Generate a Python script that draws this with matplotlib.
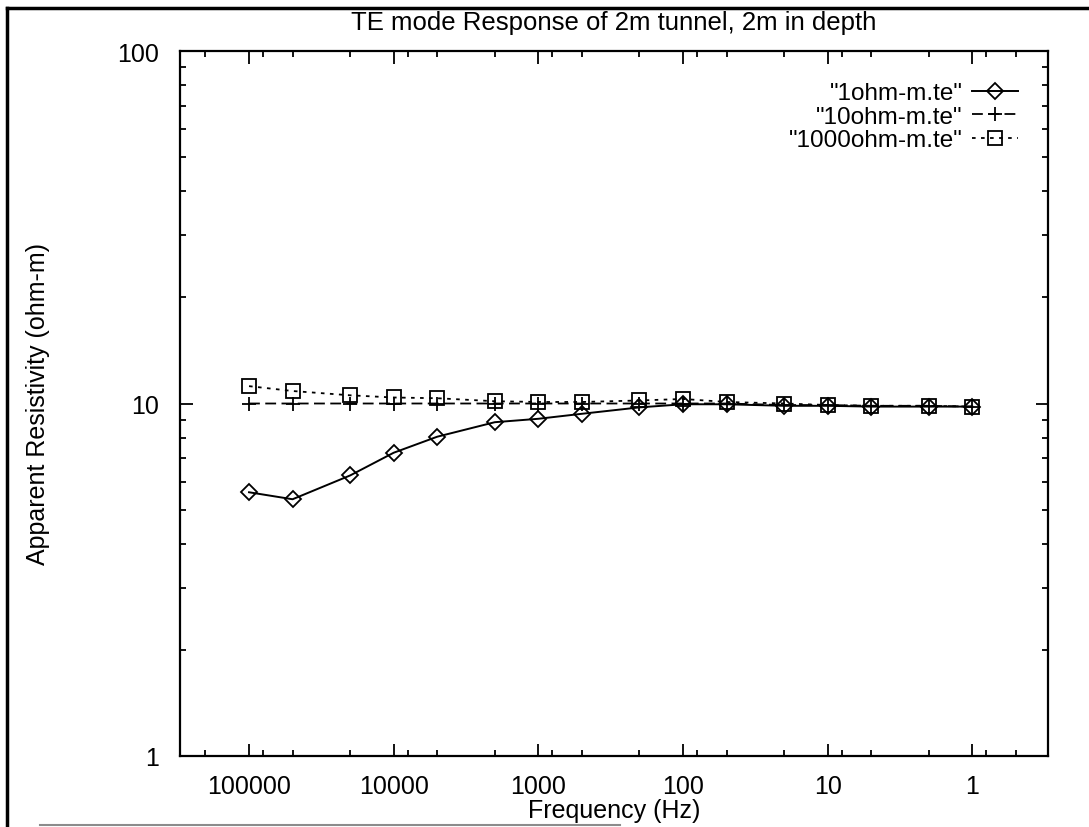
import matplotlib
matplotlib.use("Agg")
import matplotlib.pyplot as plt
from matplotlib.lines import Line2D

plt.rcParams['font.family'] = ['Liberation Sans', 'DejaVu Sans']
plt.rcParams['font.size'] = 18

# frequency (Hz) and apparent resistivity (ohm-m)
freq = [100000, 50000, 20000, 10000, 5000, 2000, 1000, 500, 200, 100, 50, 20, 10, 5, 2, 1]
rho_1 = [5.6, 5.35, 6.25, 7.25, 8.05, 8.85, 9.05, 9.35, 9.75, 9.95, 9.95, 9.85, 9.85, 9.8, 9.8, 9.8]
rho_10 = [10.0, 10.0, 10.0, 10.0, 10.0, 10.0, 10.0, 10.0, 10.0, 10.0, 10.0, 9.9, 9.9, 9.85, 9.85, 9.8]
rho_1000 = [11.2, 10.85, 10.55, 10.4, 10.35, 10.15, 10.1, 10.1, 10.2, 10.3, 10.1, 10.0, 9.9, 9.85, 9.85, 9.8]

labels = ['"1ohm-m.te"', '"10ohm-m.te"', '"1000ohm-m.te"']
xmajor = [100000, 10000, 1000, 100, 10, 1]
xmajor_labels = ['100000', '10000', '1000', '100', '10', '1']
ymajor = [1, 10, 100]
ymajor_labels = ['1', '10', '100']

W, H = 1089, 828
fig = plt.figure(figsize=(W / 100, H / 100), dpi=100)
ax = fig.add_axes([180 / W, 1 - 757 / H, 868 / W, 705 / H])

ax.plot(freq, rho_1, color='k', lw=1.4, marker='D', ms=8, mfc='none',
        mew=1.3, label=labels[0])
ax.plot(freq, rho_10, color='k', lw=1.3, ls=(0, (6, 3)), marker='+', ms=10,
        mew=1.3, label=labels[1])
ax.plot(freq, rho_1000, color='k', lw=1.3, ls=(0, (2, 3)), marker='s', ms=10,
        mfc='none', mew=1.3, label=labels[2])

ax.set_xscale('log')
ax.set_yscale('log')
ax.set_xlim(3e5, 0.3)
ax.set_ylim(1, 100)

ax.set_xticks(xmajor, labels=xmajor_labels)
xminor = [m * 10.0 ** k for k in range(-1, 6) for m in (2, 5, 8)]
xminor = [v for v in xminor if 0.3 <= v <= 3e5]
ax.set_xticks(xminor, minor=True, labels=[])
ax.set_yticks(ymajor, labels=ymajor_labels)
yminor = [m * 10.0 ** k for k in range(0, 2) for m in range(2, 10)]
ax.set_yticks(yminor, minor=True, labels=[])

ax.tick_params(which='both', direction='in', top=True, right=True, width=1.3)
ax.tick_params(which='major', length=9)
ax.tick_params(which='minor', length=4.5)
ax.tick_params(axis='x', which='major', pad=13)
ax.tick_params(axis='y', which='major', pad=15)
for s in ax.spines.values():
    s.set_linewidth(1.6)

ax.set_xlabel('Frequency (Hz)', va='center')
ax.xaxis.set_label_coords(0.5, (757 - 811) / 705)
ax.set_ylabel('Apparent Resistivity (ohm-m)', va='center')
ax.yaxis.set_label_coords((38 - 180) / 868, 0.5)
fig.text(614 / W, 1 - 23 / H, 'TE mode Response of 2m tunnel, 2m in depth',
         ha='center', va='center', fontsize=18.5)

ax.legend(loc='upper right', bbox_to_anchor=(0.966, 0.956), frameon=False,
          fontsize=17.5, markerfirst=False, handlelength=1.9, handletextpad=0.4,
          labelspacing=0.07, borderpad=0, borderaxespad=0)

# page frame from the scanned report
fig.add_artist(Line2D([7 / W, 7 / W], [0, 1 - 9 / H], transform=fig.transFigure,
                      color='k', lw=2.5))
fig.add_artist(Line2D([7 / W, 1], [1 - 9 / H, 1 - 9 / H], transform=fig.transFigure,
                      color='k', lw=2.5))
fig.add_artist(Line2D([40 / W, 620 / W], [2 / H, 2 / H], transform=fig.transFigure,
                      color='0.55', lw=1.5))

fig.savefig('out.png', dpi=100)
